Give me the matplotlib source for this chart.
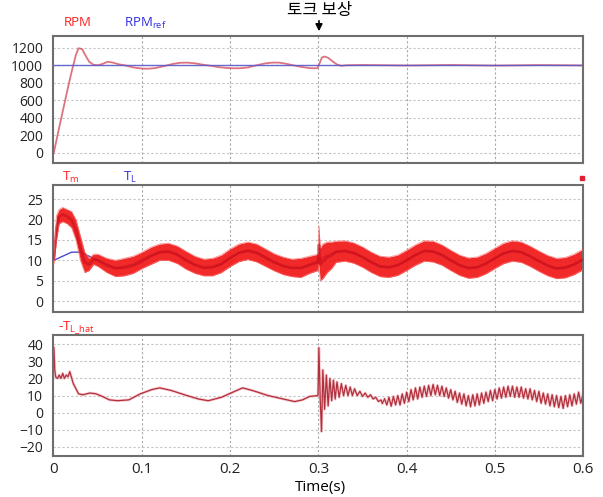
import numpy as np
import matplotlib
matplotlib.use('Agg')
import matplotlib.pyplot as plt

plt.rcParams['font.family'] = ['Open Sans', 'Noto Sans CJK KR', 'DejaVu Sans']

# 속도 (RPM)
t_rpm = [0, 0.005, 0.01, 0.015, 0.02, 0.025, 0.028, 0.032, 0.036, 0.04, 0.045, 0.05,
         0.055, 0.061, 0.067, 0.074, 0.081, 0.09, 0.1, 0.107, 0.115, 0.125, 0.135, 0.143,
         0.151, 0.16, 0.168, 0.177, 0.187, 0.197, 0.205, 0.212, 0.22, 0.23, 0.24, 0.248,
         0.255, 0.263, 0.272, 0.281, 0.29, 0.295, 0.299, 0.302, 0.304, 0.307, 0.311, 0.316,
         0.321, 0.326, 0.332, 0.35, 0.4, 0.45, 0.5, 0.55, 0.6]
rpm = [0, 240, 470, 700, 920, 1120, 1195, 1185, 1110, 1040, 1005, 1000,
       1015, 1040, 1030, 1010, 998, 975, 962, 960, 968, 990, 1015, 1028,
       1030, 1022, 1008, 995, 978, 968, 965, 966, 975, 1000, 1022, 1030,
       1030, 1018, 998, 980, 968, 965, 968, 1040, 1090, 1100, 1085, 1045,
       1008, 993, 1000, 1003, 997, 1003, 996, 1002, 998]
t_ref = [0, 0.6]
rpm_ref = [1000, 1000]

# 토크 (Tm 리플 상하한, TL)
t_tm = [0, 0.003, 0.006, 0.01, 0.015, 0.02, 0.025, 0.03, 0.035, 0.04, 0.045, 0.05,
        0.06, 0.07, 0.08, 0.09, 0.10, 0.11, 0.12, 0.13, 0.14, 0.15, 0.16, 0.17, 0.18,
        0.19, 0.20, 0.21, 0.22, 0.23, 0.24, 0.25, 0.26, 0.27, 0.28, 0.29, 0.2995,
        0.3005, 0.302, 0.305, 0.31, 0.315, 0.32, 0.33, 0.34, 0.35, 0.36, 0.37, 0.38,
        0.39, 0.40, 0.41, 0.42, 0.43, 0.44, 0.45, 0.46, 0.47, 0.48, 0.49, 0.50, 0.51,
        0.52, 0.53, 0.54, 0.55, 0.56, 0.57, 0.58, 0.59, 0.60]
tm_hi = [12, 21, 22.5, 23, 22.5, 22, 20, 16, 12, 10.5, 11.5, 11.5,
         10.5, 10, 10.5, 11, 12, 13.2, 14, 14.2, 13.5, 12.2, 11, 10.3, 10.5,
         11.3, 12.8, 14, 14.5, 14, 12.8, 11.6, 10.8, 10.3, 10.5, 11, 11.5,
         18.5, 13, 14, 14.5, 14.5, 14.7, 14.8, 14.3, 13.3, 12, 11, 10.8,
         11.3, 12.5, 13.8, 14.8, 14.7, 13.8, 12.5, 11.3, 10.6, 10.8, 11.7, 13, 14.2,
         14.8, 14.5, 13.5, 12.3, 11.2, 10.5, 10.7, 11.5, 12.7]
tm_lo = [9, 15, 19, 19.5, 19, 18, 15, 10, 7, 7.5, 9, 8.5,
         7, 6, 6.2, 6.8, 8, 9, 10, 10, 9.2, 7.8, 6.8, 6.2, 6.2,
         7, 8.5, 9.7, 10.2, 9.6, 8.5, 7.4, 6.5, 6, 5.8, 6.8, 7.5,
         9, 5, 5.5, 7, 8, 9.5, 9.8, 9.3, 8.3, 7, 6, 5.8,
         6.3, 7.5, 8.8, 9.8, 9.6, 8.8, 7.5, 6.3, 5.6, 5.8, 6.7, 8, 9.2,
         9.8, 9.5, 8.5, 7.3, 6.2, 5.5, 5.7, 6.5, 7.7]
t_tl = [0, 0.01, 0.02, 0.03, 0.04, 0.05, 0.06, 0.07, 0.08, 0.09, 0.10, 0.11, 0.12,
        0.13, 0.14, 0.15, 0.16, 0.17, 0.18, 0.19, 0.20, 0.21, 0.22, 0.23, 0.24, 0.25,
        0.26, 0.27, 0.28, 0.29, 0.30, 0.31, 0.32, 0.33, 0.34, 0.35, 0.36, 0.37, 0.38,
        0.39, 0.40, 0.41, 0.42, 0.43, 0.44, 0.45, 0.46, 0.47, 0.48, 0.49, 0.50, 0.51,
        0.52, 0.53, 0.54, 0.55, 0.56, 0.57, 0.58, 0.59, 0.60]
tl = [10, 11, 12, 12, 11, 10, 9, 8.2, 8, 8.5, 9.5, 11, 12,
      12.3, 11.5, 10, 8.8, 8, 8.2, 9, 10.5, 11.8, 12.5, 12, 10.8, 9.5,
      8.5, 8, 8, 8.8, 10, 11.3, 12, 12.3, 11.8, 10.8, 9.5, 8.5, 8.2,
      8.8, 10, 11.3, 12.3, 12.2, 11.3, 10, 8.8, 8.1, 8.3, 9.2, 10.5, 11.7,
      12.3, 12, 11, 9.8, 8.7, 8, 8.2, 9, 10.2]

# 추정 부하토크 (-TL_hat)
t_hat = [0, 0.001, 0.002, 0.004, 0.006, 0.008, 0.01, 0.012, 0.014, 0.016, 0.018,
         0.022, 0.028, 0.033, 0.041, 0.048, 0.055, 0.063, 0.072, 0.085, 0.098, 0.111,
         0.12, 0.133, 0.151, 0.164, 0.175, 0.19, 0.203, 0.214, 0.225, 0.243, 0.26,
         0.273, 0.282, 0.29, 0.2995,
         0.3005, 0.302, 0.3035, 0.305, 0.307, 0.309, 0.311, 0.313, 0.315, 0.317, 0.319,
         0.321, 0.3235, 0.326, 0.3285, 0.331, 0.3335, 0.336, 0.3385, 0.341, 0.344,
         0.347, 0.35, 0.353, 0.356, 0.359, 0.362, 0.365, 0.368, 0.371, 0.3725]
hat = [38, 25, 21, 20, 22, 20, 23, 20, 22, 21, 24,
       17, 11, 10.5, 11.5, 11, 9.5, 7.5, 7, 7.5, 11, 13.5,
       14.5, 13, 10, 8, 7, 9, 12, 14.5, 13, 10, 8,
       6.5, 7.5, 9.5, 10,
       38, 8, -11, 25, 2, 22, 4, 20, 7, 19, 8,
       18, 9, 17, 10, 16, 10, 15, 10, 14, 10,
       12.5, 9.5, 11.5, 9, 10.5, 8, 9, 6.5, 7.5, 5.5]
# 0.375 ~ 0.6 s 구간, 0.0025 s 간격의 톱니 리플
hat_zig = [8, 4.5, 9, 3.8, 9.5, 4.5, 10, 4.5, 11, 5.5,
           12, 6.5, 13.5, 7.5, 14.5, 8, 15, 9, 15.5, 9.5,
           16, 10, 16.5, 10.5, 16, 10, 15.5, 9.5, 14.5, 8.5,
           13.5, 7.5, 12.5, 6, 11.5, 5, 11, 4, 10, 3.5,
           10.5, 4, 11, 4.5, 11.5, 5.5, 12, 6.5, 13, 7,
           13.5, 8, 14.5, 8.5, 15, 9, 15.5, 9.5, 15.5, 9,
           15, 9, 15, 8.5, 14, 8, 14, 7.5, 13, 6.5,
           12.5, 5.5, 11.5, 5, 11, 4, 10.5, 3.5, 10, 3,
           9.5, 2.5, 10, 3.5, 10.5, 4, 11, 5, 12, 5.5, 11]
t_zig = np.linspace(0.375, 0.6, len(hat_zig))

x_ticks = [0, 0.1, 0.2, 0.3, 0.4, 0.5, 0.6]
x_labels = ['0', '0.1', '0.2', '0.3', '0.4', '0.5', '0.6']

fig = plt.figure(figsize=(6.03, 4.97), dpi=100)
L, W = 53 / 603, 530 / 603
ax1 = fig.add_axes([L, 1 - 163 / 497, W, 127 / 497])
ax2 = fig.add_axes([L, 1 - 312 / 497, W, 127 / 497])
ax3 = fig.add_axes([L, 1 - 456 / 497, W, 121 / 497])


def style(ax, yticks, ylim):
    ax.set_xlim(-0.001, 0.6)
    ax.set_ylim(*ylim)
    ax.set_yticks(yticks)
    ax.set_xticks(x_ticks)
    for y in yticks:
        ax.axhline(y, color='#c4c4c4', lw=0.8, ls=(0, (2, 2)), zorder=0)
    for x in x_ticks[1:-1]:
        ax.axvline(x, color='#a8a8a8', lw=0.8, ls=(0, (2, 2)), zorder=0)
    for s in ax.spines.values():
        s.set_color('#6e6e6e')
        s.set_linewidth(1.5)
    ax.tick_params(length=0, labelsize=10, pad=7, colors='#222222')


# 상단: 속도
style(ax1, [0, 200, 400, 600, 800, 1000, 1200], (-120, 1335))
ax1.plot(t_rpm, rpm, color='#d85a68', lw=1.3, alpha=0.85)
ax1.plot(t_ref, rpm_ref, color='#5a5ad0', lw=1.0, alpha=0.9)
ax1.set_xticklabels([])

# 중단: 토크
style(ax2, [0, 5, 10, 15, 20, 25], (-2.7, 28.5))
ax2.plot(t_tl, tl, color='#4a4ad0', lw=1.0, zorder=1)
ax2.fill_between(t_tm, tm_lo, tm_hi, color='#f01818', alpha=0.93, lw=0, zorder=2)
ax2.plot(t_tm, tm_hi, color='#ff7070', lw=0.7, alpha=0.7, zorder=3)
ax2.plot(t_tm, tm_lo, color='#ff7070', lw=0.7, alpha=0.7, zorder=3)
tm_mid = (np.array(tm_hi) + np.array(tm_lo)) / 2
ax2.plot(t_tm, tm_mid, color='#b80818', lw=2.0, alpha=0.45, zorder=3)
ax2.set_xticklabels([])

# 하단: 추정 부하토크
style(ax3, [-20, -10, 0, 10, 20, 30, 40], (-25.3, 45.4))
ax3.plot(t_hat, hat, color='#f4a0a8', lw=2.0, alpha=0.6)
ax3.plot(t_hat, hat, color='#b0303e', lw=0.9)
ax3.plot(t_zig, hat_zig, color='#f4a0a8', lw=2.0, alpha=0.6)
ax3.plot(t_zig, hat_zig, color='#b0303e', lw=0.9)
ax3.plot([t_hat[-1], t_zig[0]], [hat[-1], hat_zig[0]], color='#b0303e', lw=0.9)
ax3.set_xticklabels(x_labels, fontsize=11)
ax3.tick_params(axis='x', pad=4)


def px(x, y):
    return x / 603, 1 - y / 497


fig.text(*px(64, 23), 'RPM', color='#ff2020', fontsize=9.5, va='center')
fig.text(*px(124, 23), r'RPM$_{\mathregular{ref}}$', color='#3030e0', fontsize=9.5, va='center')
fig.text(*px(62, 177), r'T$_{\mathregular{m}}$', color='#ff2020', fontsize=9.5, va='center')
fig.text(*px(123, 177), r'T$_{\mathregular{L}}$', color='#3030e0', fontsize=9.5, va='center')
fig.text(*px(58, 328), r'-T$_{\mathregular{L\_hat}}$', color='#ff2020', fontsize=9.5, va='center')
fig.patches.append(plt.Rectangle(px(580, 180), 4 / 603, 4 / 497, color='#e02030',
                                 transform=fig.transFigure, figure=fig))

fig.text(*px(320, 10), '토크 보상', fontsize=12, ha='center', va='center',
         family=['Noto Sans CJK KR', 'DejaVu Sans'])
ax1.annotate('', xy=px(319, 34), xytext=px(319, 18), xycoords='figure fraction',
             textcoords='figure fraction',
             arrowprops=dict(arrowstyle='-|>', color='black', lw=1.2, mutation_scale=10))
fig.text(*px(320, 487), 'Time(s)', fontsize=11, ha='center', va='center')

fig.savefig('out.png', dpi=100)
